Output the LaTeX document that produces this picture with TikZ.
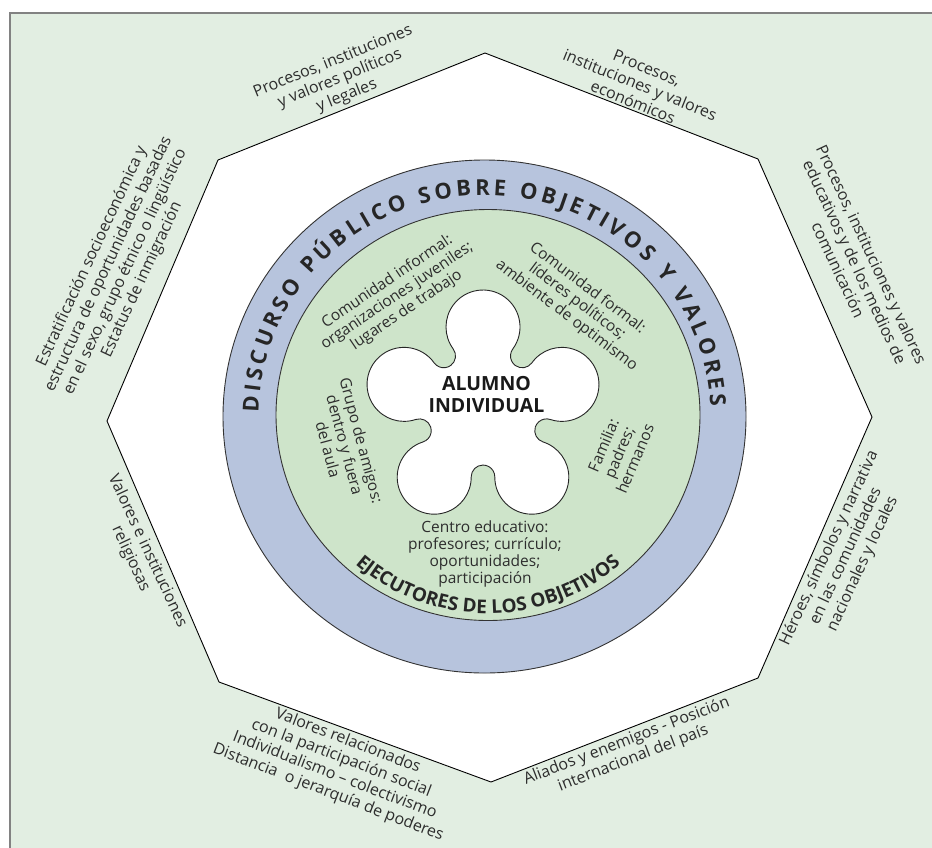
\documentclass[tikz,border=0pt]{standalone}
\usepackage{fontspec}
\setmainfont{Open Sans}
\usetikzlibrary{calc,decorations.text}
\definecolor{framegreen}{RGB}{226,238,226}
\definecolor{ringblue}{RGB}{183,196,221}
\definecolor{discgreen}{RGB}{206,228,202}
\definecolor{framegray}{RGB}{130,130,130}
\definecolor{txt}{RGB}{45,45,45}
\begin{document}
\begin{tikzpicture}[x=1pt,y=1pt,
  outertext/.style={align=center, inner sep=0pt, text=txt, font=\fontsize{16}{18.4}\selectfont},
  innertext/.style={align=center, inner sep=0pt, text=txt, font=\fontsize{15.5}{17.2}\selectfont},
  octedge/.style={draw=black, line width=0.9pt, fill=white},
  ringline/.style={draw=black!80, line width=0.9pt}]
\useasboundingbox (0,0) rectangle (932,-847);
\begin{scope}
  \clip (0,0) rectangle (932,-847);
  \draw[framegray, fill=framegreen, line width=1.3pt] (10,-13) rectangle (960,-880);
\end{scope}
% octagon
\coordinate (T)  at (485,-53);
\coordinate (TR) at (758,-159);
\coordinate (R)  at (872,-417);
\coordinate (BR) at (758,-678);
\coordinate (B)  at (491,-782);
\coordinate (BL) at (219,-682);
\coordinate (L)  at (107,-421);
\coordinate (TL) at (218,-160);
\draw[octedge] (T) -- (TR) -- (R) -- (BR) -- (B) -- (BL) -- (L) -- (TL) -- cycle;
% rings
\coordinate (C) at (484.5,-416.5);
\coordinate (G) at (488,-415);
\draw[ringline, fill=ringblue] (C) ellipse[x radius=261.5, y radius=256.5];
\draw[ringline, fill=discgreen] (G) ellipse[x radius=212, y radius=205.5];
% curved texts
\path[decorate, decoration={text along path,
   text={|\fontsize{22}{22}\selectfont\bfseries|DISCURSO PÚBLICO SOBRE OBJETIVOS Y VALORES},
   text color=black!85, text align={fit to path}}]
   ([shift={(179:226)}]C) arc[start angle=179, end angle=2.5, x radius=226, y radius=221];
\path[decorate, decoration={text along path,
   text={|\fontsize{19}{19}\selectfont\bfseries|EJECUTORES DE LOS OBJETIVOS},
   text color=black!85, text align=center}]
   ([shift={(224:200)}]G) arc[start angle=224, end angle=316, x radius=200, y radius=195];
% flower
\coordinate (F) at (483,-410);
\draw[fill=white, draw=black!85, line width=0.9pt]
 ($(F)+(90:83)+(-36.4:37)$)
 arc[start angle=-36.4, end angle=216.4, radius=37]
 arc[start angle=36.4, end angle=-144.4, radius=11.8]
 arc[start angle=35.6, end angle=288.4, radius=37]
 arc[start angle=108.4, end angle=-72.4, radius=11.8]
 arc[start angle=107.6, end angle=360.4, radius=37]
 arc[start angle=180.4, end angle=-0.4, radius=11.8]
 arc[start angle=179.6, end angle=432.4, radius=37]
 arc[start angle=252.4, end angle=71.6, radius=11.8]
 arc[start angle=251.6, end angle=504.4, radius=37]
 arc[start angle=324.4, end angle=143.6, radius=11.8]
 -- cycle;
\node[align=center, inner sep=0pt, text=black!90, font=\fontsize{19.5}{21.7}\selectfont\bfseries] (alumno) at (486.5,-394.7) {ALUMNO\\INDIVIDUAL};
% inner texts
\node[innertext, rotate=34] (cinf) at (397,-296) {Comunidad informal:\\organizaciones juveniles;\\lugares de trabajo};
\node[innertext, rotate=-37] (cfor) at (577,-302) {Comunidad formal:\\líderes políticos;\\ambiente de optimismo};
\node[innertext, rotate=-75] (grupo) at (345,-445) {Grupo de amigos:\\dentro y fuera\\del aula};
\node[innertext, rotate=67] (familia) at (619,-452) {Familia:\\padres;\\hermanos};
\node[innertext] (centro) at (485,-554) {Centro educativo:\\profesores; currículo;\\oportunidades;\\participación};
% outer texts
\node[outertext, rotate=22] (pol) at (340,-79) {Procesos, instituciones\\y valores políticos\\y legales};
\node[outertext, rotate=-22] (eco) at (640,-85) {Procesos,\\instituciones y valores\\económicos};
\node[outertext, rotate=-65] (edu) at (855,-262) {Procesos, instituciones y valores\\educativos y de los medios de\\comunicación};
\node[outertext, rotate=65] (her) at (846,-556) {Héroes, símbolos y narrativa\\en las comunidades\\nacionales y locales};
\node[outertext, rotate=21] (ali) at (630,-750) {Aliados y enemigos - Posición\\internacional del país};
\node[outertext, rotate=-21] (val) at (338,-767) {Valores relacionados\\con la participación social\\Individualismo – colectivismo\\Distancia \ o jerarquía de poderes};
\node[outertext, rotate=-65] (rel) at (139,-555) {Valores e instituciones\\religiosas};
\node[outertext, rotate=65] (est) at (117,-268) {Estratificación socioeconómica y\\estructura de oportunidades basadas\\en el sexo, grupo étnico o lingüístico\\Estatus de inmigración};
\end{tikzpicture}
\end{document}
